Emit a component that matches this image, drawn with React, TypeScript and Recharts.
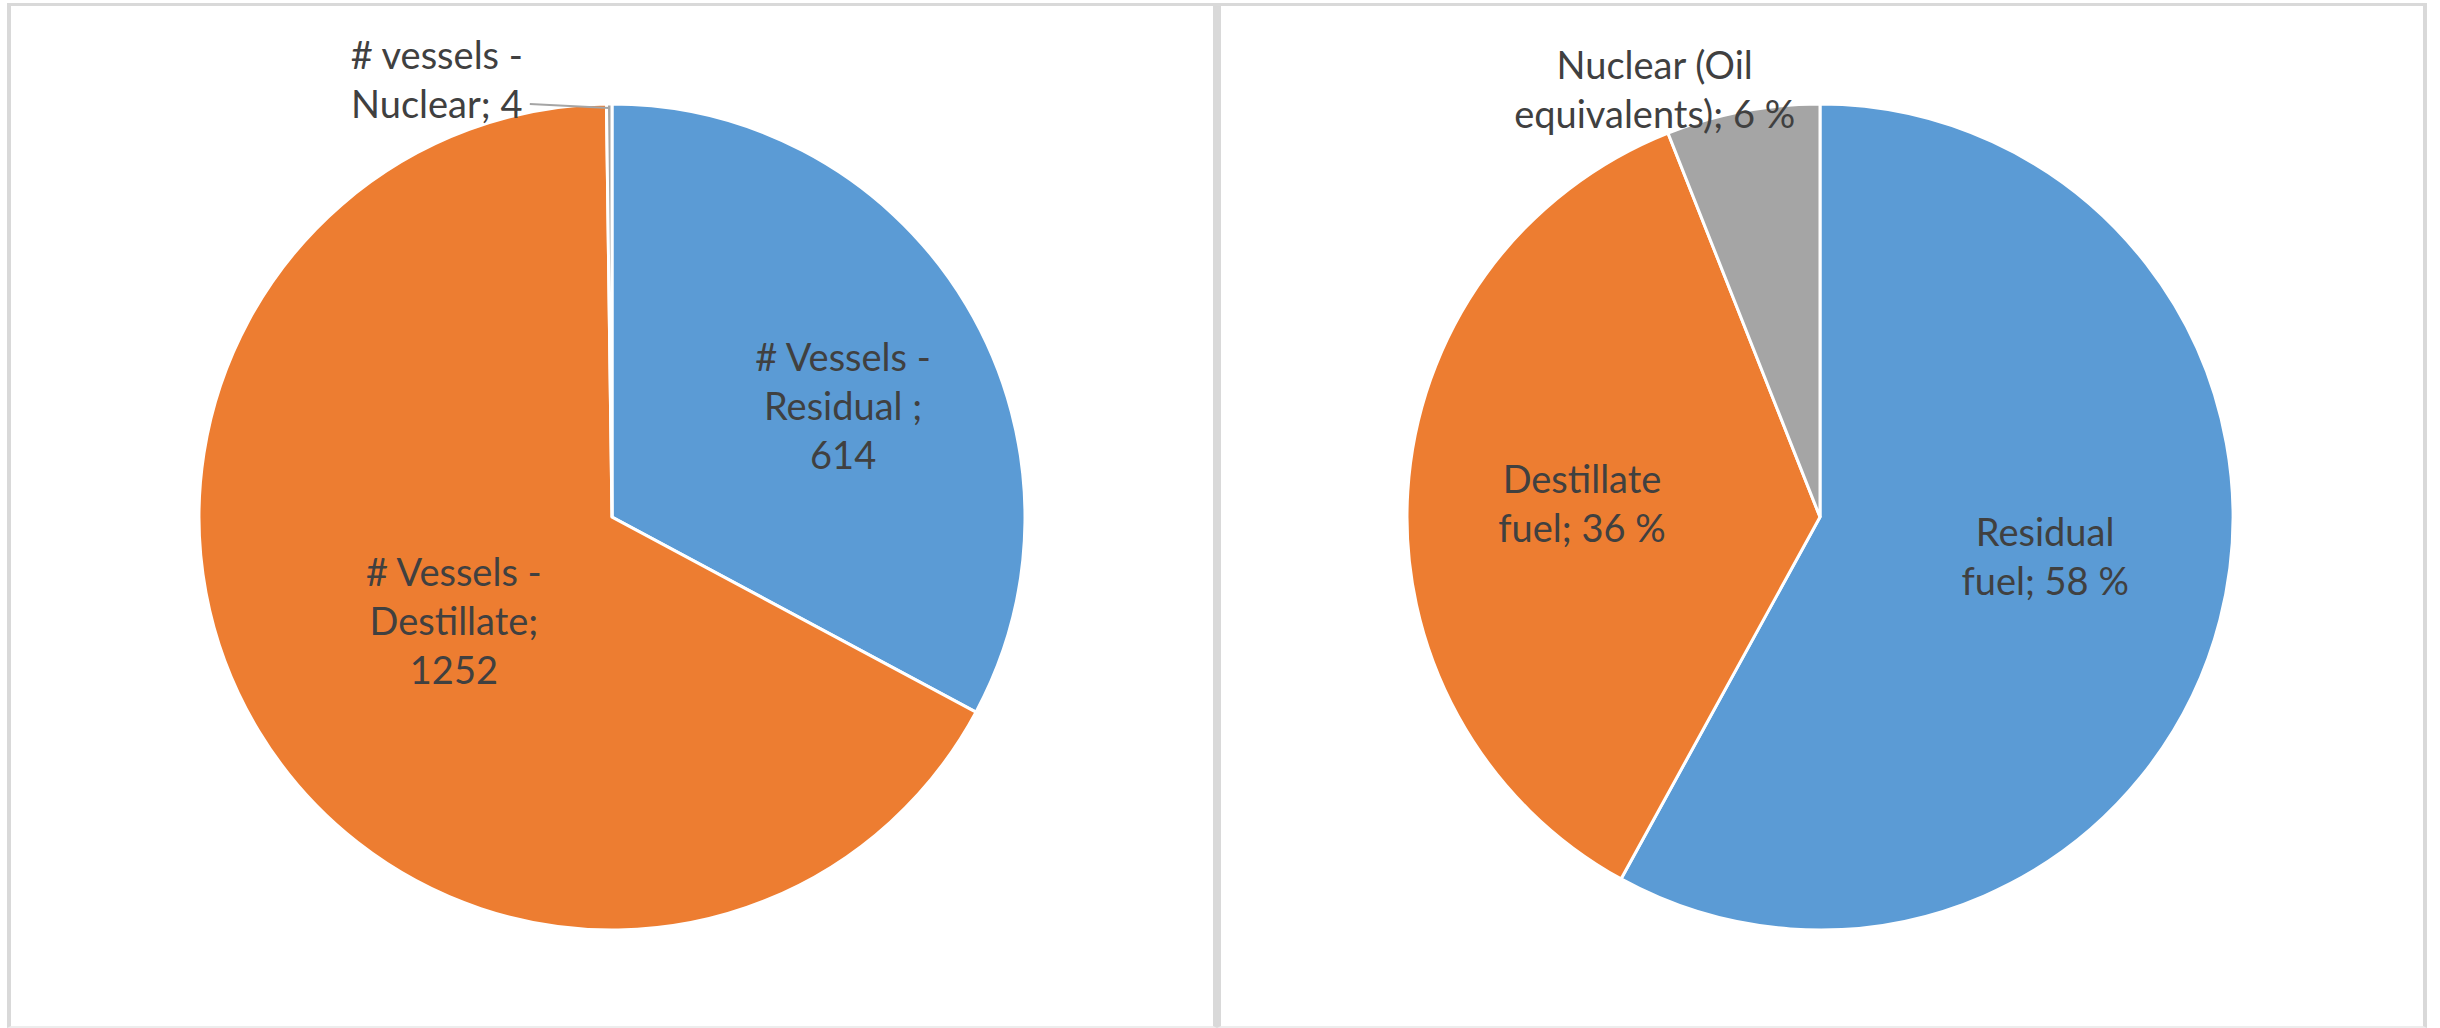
import React from "react";
import { PieChart, Pie, Cell } from "recharts";

// Number of vessels by fuel type
const vesselCategories = ["# Vessels - Residual ", "# Vessels - Destillate", "# vessels - Nuclear"];
const vesselCounts = [614, 1252, 4];

// Fuel consumption share (%)
const fuelCategories = ["Residual fuel", "Destillate fuel", "Nuclear (Oil equivalents)"];
const fuelShares = [58, 36, 6];

const sliceColors = ["#5B9BD5", "#ED7D31", "#A5A5A5"];

const vesselData = vesselCategories.map((name, i) => ({ name, value: vesselCounts[i] }));
const fuelData = fuelCategories.map((name, i) => ({ name, value: fuelShares[i] }));

// Label placement: radius factor, angle shift from slice middle (deg), wrap width (chars)
type LabelLayout = { k: number; da: number; wrap: number; leader?: { dx: number; dy: number } };
const vesselLabelLayout: LabelLayout[] = [
  { k: 0.62, da: -5.4, wrap: 11 },
  { k: 0.46, da: 2.4, wrap: 11 },
  { k: 1.138, da: 21.5, wrap: 11, leader: { dx: 93, dy: 23 } },
];
const fuelLabelLayout: LabelLayout[] = [
  { k: 0.554, da: 4.1, wrap: 11 },
  { k: 0.577, da: 0.7, wrap: 11 },
  { k: 1.107, da: 10.4, wrap: 17 },
];

const FONT = "Lato, 'Open Sans', sans-serif";
const FONT_SIZE = 38;
const LINE_H = 49;
const CAP_HALF = 13;
const TEXT_COLOR = "#404040";
const RAD = Math.PI / 180;

function wrapWords(text: string, max: number): string[] {
  const words = text.split(" ").filter((w) => w.length > 0);
  const lines: string[] = [];
  let cur = "";
  for (const w of words) {
    const next = cur ? cur + " " + w : w;
    if (next.length > max && cur) {
      lines.push(cur);
      cur = w;
    } else {
      cur = next;
    }
  }
  if (cur) lines.push(cur);
  return lines;
}

function makeLabel(layout: LabelLayout[], fmt: (name: string, value: number) => string) {
  return (props: any) => {
    const { cx, cy, midAngle, outerRadius, index } = props;
    const name = props.payload?.name ?? props.name;
    const value = props.payload?.value ?? props.value;
    const L = layout[index];
    const a = (midAngle + L.da) * RAD;
    const r = outerRadius * L.k;
    const x = cx + r * Math.cos(a);
    const y = cy - r * Math.sin(a);
    const lines = wrapWords(fmt(name, value), L.wrap);
    const firstBase = y - ((lines.length - 1) * LINE_H) / 2 + CAP_HALF;
    let leader = null;
    if (L.leader) {
      const m = midAngle * RAD;
      const ex = cx + (outerRadius - 3) * Math.cos(m);
      const ey = cy - (outerRadius - 4) * Math.sin(m);
      leader = (
        <line x1={x + L.leader.dx} y1={y + L.leader.dy} x2={ex} y2={ey} stroke="#A5A5A5" strokeWidth={2} />
      );
    }
    return (
      <g key={`lbl-${index}`}>
        {leader}
        <text
          x={x}
          y={firstBase}
          textAnchor="middle"
          fill={TEXT_COLOR}
          fontFamily={FONT}
          fontSize={FONT_SIZE}
        >
          {lines.map((ln, i) => (
            <tspan key={i} x={x} y={firstBase + i * LINE_H}>
              {ln}
            </tspan>
          ))}
        </text>
      </g>
    );
  };
}

const vesselLabel = makeLabel(vesselLabelLayout, (n, v) => `${n}; ${v}`);
const fuelLabel = makeLabel(fuelLabelLayout, (n, v) => `${n}; ${v} %`);

const panelStyle: React.CSSProperties = {
  position: "absolute",
  top: 3,
  width: 1210,
  height: 1025,
  boxSizing: "border-box",
  borderLeft: "4px solid #d9d9d9",
  borderRight: "4px solid #d9d9d9",
  borderTop: "3px solid #d9d9d9",
  borderBottom: "2px solid #ededed",
  background: "#fff",
};

export default function App() {
  return (
    <div
      style={{
        position: "absolute",
        left: 0,
        top: 0,
        width: 2440,
        height: 1028,
        background: "#fff",
        overflow: "hidden",
      }}
    >
      <div style={{ ...panelStyle, left: 7 }} />
      <div style={{ ...panelStyle, left: 1217 }} />
      <div style={{ position: "absolute", left: 0, top: 0 }}>
        <PieChart width={2440} height={1028} margin={{ top: 0, right: 0, bottom: 0, left: 0 }}>
          <Pie
            data={vesselData}
            dataKey="value"
            nameKey="name"
            cx={612}
            cy={517}
            outerRadius={413}
            startAngle={90}
            endAngle={-270}
            stroke="#ffffff"
            strokeWidth={3}
            label={vesselLabel}
            labelLine={false}
            isAnimationActive={false}
          >
            {vesselData.map((d, i) => (
              <Cell key={d.name} fill={sliceColors[i]} stroke="#ffffff" strokeWidth={3} />
            ))}
          </Pie>
          <Pie
            data={fuelData}
            dataKey="value"
            nameKey="name"
            cx={1820}
            cy={517}
            outerRadius={413}
            startAngle={90}
            endAngle={-270}
            stroke="#ffffff"
            strokeWidth={3}
            label={fuelLabel}
            labelLine={false}
            isAnimationActive={false}
          >
            {fuelData.map((d, i) => (
              <Cell key={d.name} fill={sliceColors[i]} stroke="#ffffff" strokeWidth={3} />
            ))}
          </Pie>
        </PieChart>
      </div>
    </div>
  );
}
